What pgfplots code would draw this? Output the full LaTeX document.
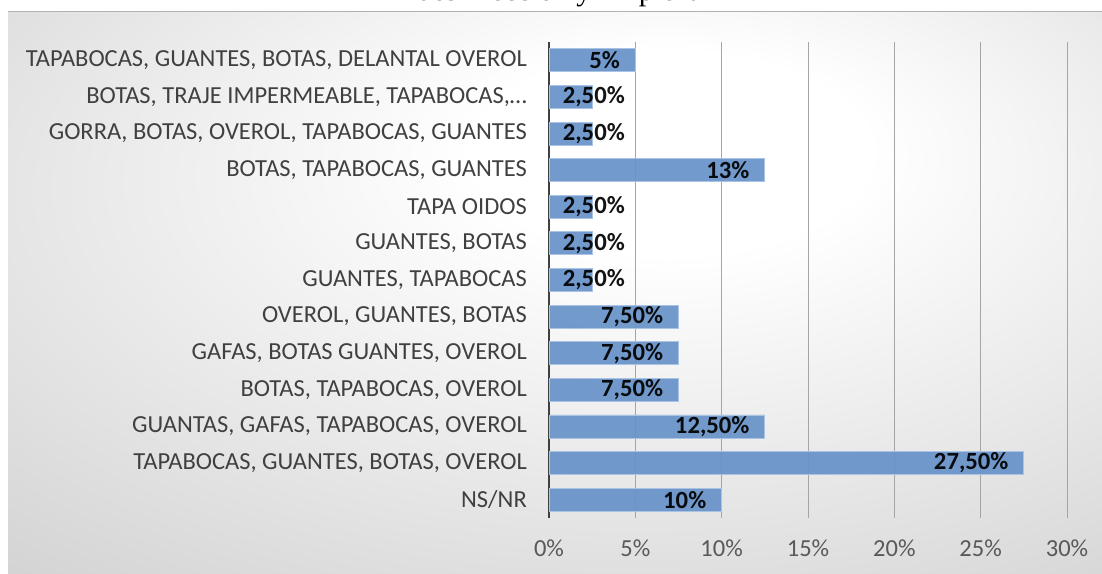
\documentclass[border=0pt]{standalone}
\usepackage{pgfplots}
\pgfplotsset{compat=1.18}
\usepackage{fontspec}
\setmainfont{Carlito}
\newfontfamily\titlefont{Liberation Serif}
\definecolor{barblue}{RGB}{103,146,200}
\definecolor{baredge}{RGB}{170,195,228}
\definecolor{labgray}{RGB}{64,64,64}
\definecolor{tickgray}{RGB}{89,89,89}
\definecolor{gridgray}{RGB}{165,165,165}
\pgfdeclareradialshading{bgshade}{\pgfpoint{6bp}{14bp}}{%
  color(0bp)=(white); color(9bp)=(white); color(50bp)=(black!21); color(80bp)=(black!23)}
\begin{document}
\begin{tikzpicture}
\useasboundingbox (0pt,0pt) rectangle (1102pt,573pt);
\shade[shading=bgshade] (8pt,0pt) rectangle (1102pt,561pt);
\draw[black!30, line width=1pt] (8pt,561pt) -- (1102pt,561pt);
\node[anchor=base west, font=\titlefont\fontsize{30}{36}\selectfont, inner sep=0pt] at (417pt,572pt) {desinfección y limpieza};
\begin{axis}[
  at={(549pt,55pt)}, anchor=south west,
  scale only axis, width=518pt, height=476pt,
  xmin=0, xmax=30, ymin=-0.5, ymax=12.5,
  xbar, bar width=23pt, bar shift=0pt,
  axis y line*=left, axis x line*=bottom,
  x axis line style={draw=none},
  y axis line style={draw=labgray, line width=2.5pt},
  xtick={0,5,...,30},
  xticklabels={0\%,5\%,10\%,15\%,20\%,25\%,30\%},
  xmajorgrids, grid style={gridgray, line width=1pt},
  major tick length=0pt,
  xticklabel style={font=\fontsize{24.5}{28}\selectfont, text=tickgray, inner sep=0pt, yshift=-22pt},
  ytick={0,...,12},
  yticklabels={{NS/NR},{TAPABOCAS, GUANTES, BOTAS, OVEROL},{GUANTAS, GAFAS, TAPABOCAS, OVEROL},{BOTAS, TAPABOCAS, OVEROL},{GAFAS, BOTAS GUANTES, OVEROL},{OVEROL, GUANTES, BOTAS},{GUANTES, TAPABOCAS},{GUANTES, BOTAS},{TAPA OIDOS},{BOTAS, TAPABOCAS, GUANTES},{GORRA, BOTAS, OVEROL, TAPABOCAS, GUANTES},{BOTAS, TRAJE IMPERMEABLE, TAPABOCAS,…},{TAPABOCAS, GUANTES, BOTAS, DELANTAL OVEROL}},
  yticklabel style={font=\fontsize{24.5}{28}\selectfont, text=labgray, inner sep=0pt, anchor=east, xshift=-22pt},
  point meta=explicit symbolic,
  nodes near coords,
  nodes near coords style={font=\bfseries\fontsize{24.7}{28}\selectfont, text=black, inner sep=0pt},
  clip=false,
]
\addplot[fill=barblue, draw=baredge, line width=0.8pt, fill opacity=0.92,
  every node near coord/.append style={anchor=east, xshift=-15pt}]
  coordinates {
  (10,0) [10\%]
  (27.5,1) [27,50\%]
  (12.5,2) [12,50\%]
  (7.5,3) [7,50\%]
  (7.5,4) [7,50\%]
  (7.5,5) [7,50\%]
  (12.5,9) [13\%]
  (5,12) [5\%]
  };
\addplot[fill=barblue, draw=baredge, line width=0.8pt, fill opacity=0.92,
  every node near coord/.append style={anchor=east, xshift=33pt}]
  coordinates {
  (2.5,6) [2,50\%]
  (2.5,7) [2,50\%]
  (2.5,8) [2,50\%]
  (2.5,10) [2,50\%]
  (2.5,11) [2,50\%]
  };
\end{axis}
\end{tikzpicture}
\end{document}
